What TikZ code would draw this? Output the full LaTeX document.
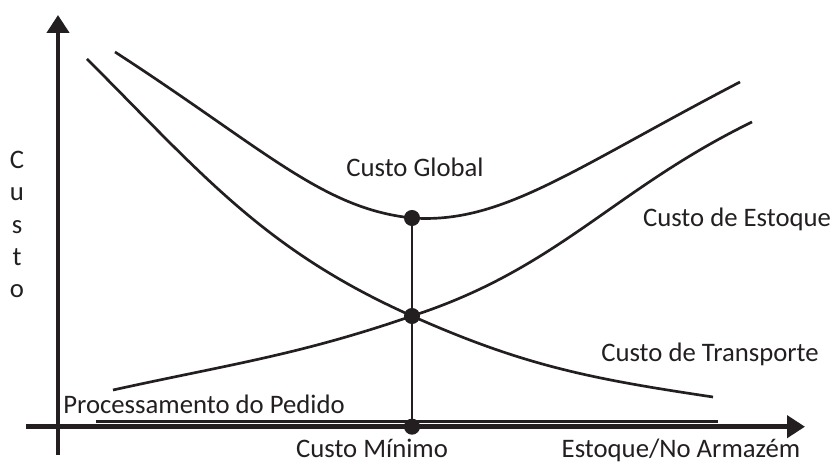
\documentclass[tikz,border=0pt]{standalone}
\usepackage{fontspec}
\setmainfont{Carlito}
\usetikzlibrary{arrows.meta}
\definecolor{ink}{RGB}{35,31,32}
\tikzstyle{axis}=[draw=ink,line width=3.5pt,-{Triangle[width=15.6pt,length=12.8pt]}]
\tikzstyle{curve}=[draw=ink,line width=1.9pt]
\tikzstyle{dot}=[circle,fill=ink,inner sep=0pt,minimum size=11.4pt]
\tikzstyle{lbl}=[anchor=base,inner sep=0pt,text=ink,font=\fontsize{19pt}{23pt}\selectfont]

\begin{document}
\begin{tikzpicture}[x=0.025cm,y=0.025cm]
            \useasboundingbox (0,0) rectangle (834,464);
            \coordinate (0) at (58,9);
            \coordinate (1) at (58,449);
            \coordinate (2) at (26,37.3);
            \coordinate (3) at (805,37.3);
            \coordinate (4) at (96,42.3);
            \coordinate (5) at (718,42.3);
            \coordinate (6) at (115,412);
            \coordinate (7) at (740,382);
            \coordinate (8) at (113,74);
            \coordinate (9) at (752,342);
            \coordinate (10) at (87,405);
            \coordinate (11) at (713,67);
            \node [style=dot] (12) at (412,246) {};
            \node [style=dot] (13) at (412,148) {};
            \node [style=dot] (14) at (412,37.3) {};
            \node [style=lbl] (15) at (415,287) {Custo Global};
            \node [style=lbl] (16) at (737,237) {Custo de Estoque};
            \node [style=lbl] (17) at (710,102) {Custo de Transporte};
            \node [style=lbl] (18) at (204,50) {Processamento do Pedido};
            \node [style=lbl] (19) at (372,6) {Custo Mínimo};
            \node [style=lbl] (20) at (681,6) {Estoque/No Armazém};
            \node [style=lbl,anchor=center,align=center,
              font=\fontsize{19pt}{23pt}\selectfont] (21) at (17,239.5) {C\\u\\s\\t\\o};
            \draw [style=axis] (0) to (1);
            \draw [style=axis] (2) to (3);
            \draw [style=curve] (4) to (5);
            \draw [style=curve] (14.center) to (12.center);
            \draw [style=curve] (6) .. controls +(-33:180) and +(174:90) .. (12.center)
              .. controls +(-4:90) and +(207.5:190) .. (7);
            \draw [style=curve] (8) .. controls +(12.4:120) and +(199:120) .. (13.center)
              .. controls +(18:154) and +(206:154) .. (9);
            \draw [style=curve] (10) .. controls +(-45:162) and +(156:162) .. (13.center)
              .. controls +(-24:123) and +(171.5:123) .. (11);
    \end{tikzpicture}
\end{document}
